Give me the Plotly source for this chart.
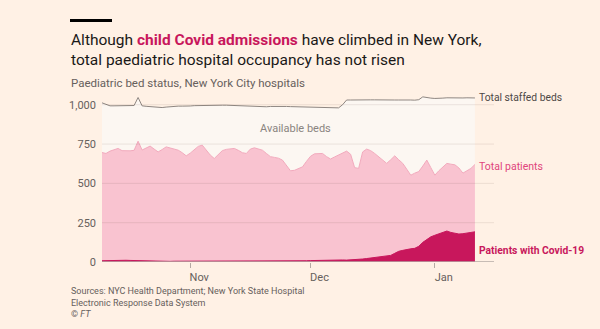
import pandas as pd
import plotly.graph_objects as go

# ---------------- data ----------------
start_date = "2021-10-10"
n_days = 94
total_patients = [
    696, 690, 705, 715, 722, 708, 706, 707, 710, 768,
    712, 725, 737, 718, 700, 715, 732, 725, 718, 711,
    695, 675, 692, 715, 735, 743, 710, 680, 658, 680,
    708, 716, 720, 722, 710, 695, 690, 718, 726, 718,
    711, 690, 670, 665, 660, 648, 615, 580, 583, 592,
    605, 640, 672, 688, 690, 690, 670, 655, 668, 680,
    695, 705, 685, 600, 595, 700, 718, 708, 690, 668,
    648, 627, 650, 675, 650, 627, 590, 552, 565, 575,
    610, 648, 600, 552, 580, 605, 627, 622, 618, 598,
    565, 580, 595, 620,
]
covid_patients = [
    8, 9, 10, 11, 12, 12, 11, 10, 9, 8,
    7, 6, 6, 5, 5, 5, 4, 4, 5, 5,
    5, 4, 4, 5, 5, 6, 6, 5, 5, 6,
    6, 7, 7, 6, 6, 7, 8, 8, 7, 7,
    6, 6, 7, 7, 8, 8, 7, 6, 6, 6,
    7, 8, 9, 10, 11, 12, 13, 13, 13, 13,
    13, 12, 13, 14, 16, 19, 22, 26, 30, 34,
    36, 38, 42, 55, 68, 74, 80, 84, 87, 100,
    125, 145, 160, 170, 180, 190, 197, 188, 182, 178,
    180, 182, 188, 192,
]
staffed_beds = [
    1012, 1000, 993, 993, 993, 993, 994, 995, 995, 1046,
    993, 990, 988, 985, 983, 982, 985, 988, 990, 991,
    991, 990, 992, 994, 995, 996, 997, 997, 996, 996,
    997, 997, 996, 995, 994, 993, 992, 990, 988, 987,
    986, 987, 989, 990, 991, 990, 989, 988, 987, 986,
    985, 984, 983, 983, 982, 982, 981, 981, 980, 980,
    1000, 1030, 1030, 1031, 1031, 1030, 1030, 1031, 1031, 1030,
    1030, 1031, 1031, 1030, 1030, 1031, 1031, 1030, 1029, 1032,
    1050, 1044, 1042, 1040, 1043, 1042, 1044, 1043, 1042, 1043,
    1043, 1044, 1043, 1043,
]
y_ticks = [0, 250, 500, 750, 1000]
x_ticks = ["2021-11-01", "2021-12-01", "2022-01-01"]
x_tick_labels = ["Nov", "Dec", "Jan"]

dates = pd.date_range(start_date, periods=n_days, freq="D")

# ---------------- style ----------------
BG = "#fff1e5"
AVAIL = "#fcf7f2"
PINK = "#f9c3d0"
PINK_LINE = "#f2a9bd"
CLARET = "#c8175c"
GREY_TXT = "#66605c"
FONT = "Roboto"

W, H = 600, 329
ML, MR, MT, MB = 102, 106, 89, 67
PW, PH = W - ML - MR, H - MT - MB


def py(p):
    return (H - MB - p) / PH


def px(p):
    return (p - ML) / PW


fig = go.Figure()
fig.add_trace(go.Scatter(x=dates, y=total_patients, mode="lines",
                         line=dict(color=PINK_LINE, width=1),
                         fill="tozeroy", fillcolor=PINK, hoverinfo="skip"))
fig.add_trace(go.Scatter(x=dates, y=staffed_beds, mode="lines",
                         line=dict(color="#8f8782", width=1),
                         fill="tonexty", fillcolor=AVAIL, hoverinfo="skip"))
fig.add_trace(go.Scatter(x=dates, y=covid_patients, mode="lines",
                         line=dict(color=CLARET, width=1),
                         fill="tozeroy", fillcolor=CLARET, hoverinfo="skip"))

shapes = []
for v in y_ticks[1:]:
    shapes.append(dict(type="line", xref="paper", yref="y", x0=0, x1=1, y0=v, y1=v,
                       line=dict(color="rgba(80,50,40,0.10)", width=1), layer="above"))
shapes.append(dict(type="line", xref="paper", yref="y", x0=0, x1=1, y0=0, y1=0,
                   line=dict(color="#b5aaa4", width=1.5), layer="above"))
# FT black bar
shapes.append(dict(type="rect", xref="paper", yref="paper",
                   x0=px(70), x1=px(112), y0=py(22), y1=py(19),
                   fillcolor="#000000", line=dict(width=0)))

annotations = [
    dict(text="Although <span style='color:%s'><b>child Covid admissions</b></span> have climbed in New York,<br>total paediatric hospital occupancy has not risen" % CLARET,
         x=px(69), y=py(29), xref="paper", yref="paper", xanchor="left", yanchor="top",
         align="left", showarrow=False, font=dict(family=FONT, size=15.5, color="#1a1817")),
    dict(text="Paediatric bed status, New York City hospitals",
         x=px(69), y=py(83), xref="paper", yref="paper", xanchor="left", yanchor="middle",
         showarrow=False, font=dict(family=FONT, size=11.5, color=GREY_TXT)),
    dict(text="Total staffed beds", x=px(477), y=py(97), xref="paper", yref="paper",
         xanchor="left", yanchor="middle", showarrow=False,
         font=dict(family=FONT, size=10.3, color="#4d4845")),
    dict(text="Available beds", x=px(295), y=py(128), xref="paper", yref="paper",
         xanchor="center", yanchor="middle", showarrow=False,
         font=dict(family=FONT, size=11, color="#8a8480")),
    dict(text="Total patients", x=px(477), y=py(166), xref="paper", yref="paper",
         xanchor="left", yanchor="middle", showarrow=False,
         font=dict(family=FONT, size=10.5, color="#e0457b")),
    dict(text="<b>Patients with Covid-19</b>", x=px(477), y=py(250), xref="paper", yref="paper",
         xanchor="left", yanchor="middle", showarrow=False,
         font=dict(family=FONT, size=10.3, color=CLARET)),
    dict(text="Sources: NYC Health Department; New York State Hospital<br>Electronic Response Data System<br>© <i>FT</i>",
         x=px(69), y=py(284), xref="paper", yref="paper", xanchor="left", yanchor="top",
         align="left", showarrow=False, font=dict(family=FONT, size=9, color=GREY_TXT)),
]

fig.update_layout(
    width=W, height=H,
    margin=dict(l=ML, r=MR, t=MT, b=MB, pad=0),
    paper_bgcolor=BG, plot_bgcolor=BG,
    showlegend=False,
    shapes=shapes, annotations=annotations,
    font=dict(family=FONT, color=GREY_TXT),
    xaxis=dict(range=[pd.Timestamp(start_date), pd.Timestamp(start_date) + pd.Timedelta(days=PW / 4.01)],
               tickvals=x_ticks, ticktext=x_tick_labels, showgrid=False, zeroline=False,
               ticks="outside", ticklen=5, tickcolor="#b5aaa4", ticklabelshift=9,
               tickfont=dict(family=FONT, size=11, color=GREY_TXT)),
    yaxis=dict(range=[0, 1100], tickvals=y_ticks, tickformat=",", showgrid=False,
               zeroline=False, ticks="", ticklabelstandoff=5,
               tickfont=dict(family=FONT, size=11, color=GREY_TXT)),
)

fig.write_html("out.html")
